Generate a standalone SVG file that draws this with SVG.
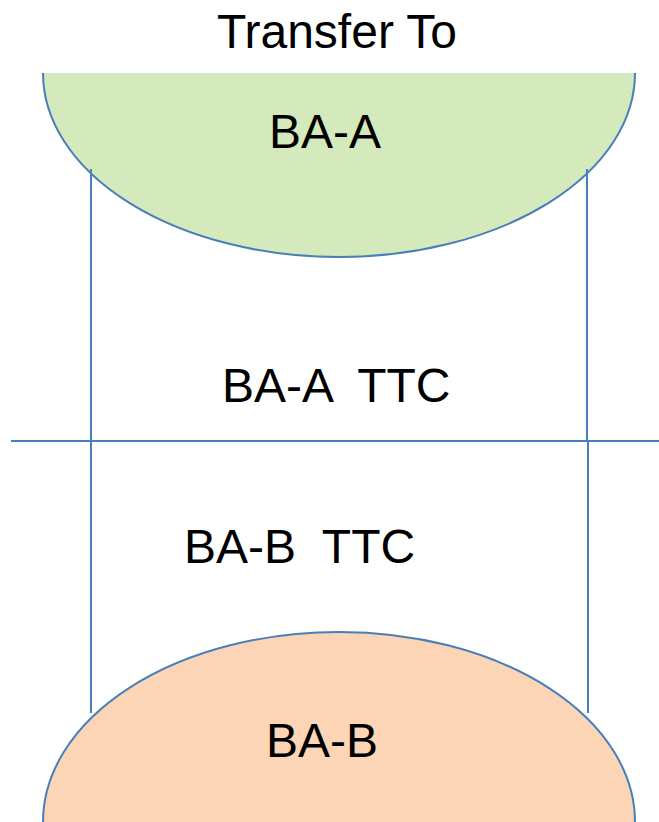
<svg xmlns="http://www.w3.org/2000/svg" width="659" height="822" viewBox="0 0 659 822">
<style>
.ln{stroke:#4a7ebb;stroke-width:2;fill:none}
.t{font-family:"Liberation Sans",Arial,sans-serif;font-size:48px;fill:#000}
</style>
<rect width="659" height="822" fill="#fff"/>
<g id="ba-a">
<path d="M43,73 A296,184 0 0 0 635,73 Z" fill="#d4eabc" stroke="none"/>
<path d="M43,73 A296,184 0 0 0 635,73" class="ln"/>
<text class="t" x="325" y="148" text-anchor="middle">BA-A</text>
</g>
<g id="ba-b">
<path d="M43,822 A296,190 0 0 1 635,822 Z" fill="#fbd5b5" stroke="none"/>
<path d="M43,822 A296,190 0 0 1 635,822" class="ln"/>
<text class="t" x="322" y="757" text-anchor="middle">BA-B</text>
</g>
<g id="connectors">
<line class="ln" x1="91" y1="169" x2="91" y2="713"/>
<line class="ln" x1="587" y1="169" x2="587" y2="441"/>
<line class="ln" x1="588" y1="441" x2="588" y2="713"/>
<line class="ln" x1="11" y1="441" x2="659" y2="441"/>
</g>
<g id="labels">
<text class="t" x="337" y="48" text-anchor="middle">Transfer To</text>
<text class="t" x="222" y="402" xml:space="preserve">BA-A  TTC</text>
<text class="t" x="184" y="563" xml:space="preserve">BA-B  TTC</text>
</g>
</svg>
